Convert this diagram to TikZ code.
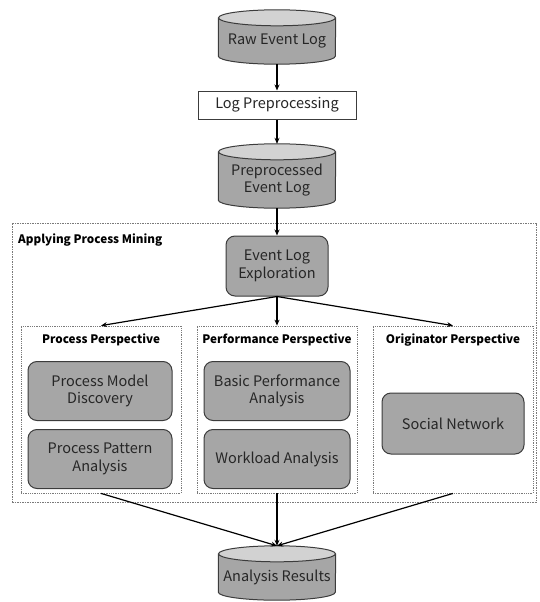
\documentclass[tikz,border=0pt]{standalone}
\usepackage{fontspec}
\setmainfont{Noto Sans CJK KR}
\usetikzlibrary{arrows.meta}
\definecolor{boxfill}{HTML}{A6A6A6}
\definecolor{cyltop}{HTML}{D2D2D2}
\definecolor{edge}{HTML}{3C3C3C}
\definecolor{txt}{HTML}{262626}
\definecolor{dotc}{HTML}{7A7A7A}
\newcommand\drawcyl[2]{%
  \fill[boxfill] ([yshift=-8pt]#1.north west) -- ([yshift=8pt]#1.south west)
    arc[start angle=180,end angle=360,x radius=#2,y radius=8pt] -- ([yshift=-8pt]#1.north east) -- cycle;
  \draw[edge,line width=1pt] ([yshift=-8pt]#1.north west) -- ([yshift=8pt]#1.south west)
    arc[start angle=180,end angle=360,x radius=#2,y radius=8pt] -- ([yshift=-8pt]#1.north east);
  \draw[edge,line width=1pt,fill=cyltop] ([yshift=-8pt]#1.north) ellipse[x radius=#2,y radius=8pt];}
\tikzset{
  cylnode/.style={minimum width=117pt,inner sep=0pt},
  lbl/.style={font=\fontsize{14.5}{17}\selectfont,text=txt,align=center,inner sep=0pt},
  ttl/.style={font=\fontsize{11.7}{14}\selectfont\bfseries,text=black,inner sep=0pt},
  whitebox/.style={draw=edge,line width=1pt,fill=white,font=\fontsize{14.5}{17}\selectfont,text=txt},
  procbox/.style={draw=edge,line width=1pt,fill=boxfill,rounded corners=9pt,font=\fontsize{14.5}{17.5}\selectfont,text=txt,align=center,inner sep=0pt},
  dotbox/.style={draw=dotc,line width=0.8pt,densely dotted,inner sep=0pt},
  outerbox/.style={draw=dotc,line width=0.8pt,dash pattern=on 1.5pt off 1pt,inner sep=0pt},
  arr/.style={-{Stealth[length=6pt,width=5pt]},line width=1.2pt,black}
}
\begin{document}
\begin{tikzpicture}[x=1pt,y=-1pt]
\useasboundingbox (0,0) rectangle (539,602);
% top chain
\node[cylnode,minimum height=54pt] (raw) at (277,37) {};
\drawcyl{raw}{58.5pt}
\node[lbl] (rawt) at ([yshift=-4pt]raw.center) {Raw Event Log};
\node[whitebox,minimum width=158pt,minimum height=28pt,inner sep=0pt] (logp) at (277,105) {Log Preprocessing};
\node[cylnode,minimum height=64pt] (pre) at (277,176) {};
\drawcyl{pre}{58.5pt}
\node[lbl] (pret) at ([yshift=-4pt]pre.center) {Preprocessed\\Event Log};
% outer region
\node[outerbox,minimum width=524pt,minimum height=279pt] (apm) at (274,362.5) {};
\node[ttl,anchor=west] (apmt) at (18,240) {Applying Process Mining};
\node[procbox,minimum width=102pt,minimum height=60pt] (ele) at (277,266) {Event Log\\Exploration};
% perspectives
\node[dotbox,minimum width=160pt,minimum height=167pt] (pp) at (101,409.5) {};
\node[dotbox,minimum width=160pt,minimum height=167pt] (perf) at (277,409.5) {};
\node[dotbox,minimum width=160pt,minimum height=167pt] (orig) at (453,409.5) {};
\node[ttl] (ppt) at (101,340) {Process Perspective};
\node[ttl] (perft) at (277,340) {Performance Perspective};
\node[ttl] (origt) at (453,340) {Originator Perspective};
\node[procbox,minimum width=144pt,minimum height=59pt] (pmd) at (100,391) {Process Model\\Discovery};
\node[procbox,minimum width=144pt,minimum height=59pt] (ppa) at (100,459) {Process Pattern\\Analysis};
\node[procbox,minimum width=146pt,minimum height=59pt] (bpa) at (277,391) {Basic Performance\\Analysis};
\node[procbox,minimum width=146pt,minimum height=59pt] (wla) at (277,459) {Workload Analysis};
\node[procbox,minimum width=142pt,minimum height=61pt] (sn) at (453,423.5) {Social Network};
% results
\node[cylnode,minimum height=54pt] (res) at (277,573) {};
\drawcyl{res}{58.5pt}
\node[lbl] (rest) at ([yshift=-4pt]res.center) {Analysis Results};
% connectors
\draw[arr] (raw.south) -- (logp.north);
\draw[arr] (logp.south) -- (pre.north);
\draw[arr] (pre.south) -- (ele.north);
\draw[arr] (ele.south) -- (pp.north);
\draw[arr] (ele.south) -- (perf.north);
\draw[arr] (ele.south) -- (orig.north);
\draw[arr] (pp.south) -- (res.north);
\draw[arr] (perf.south) -- (res.north);
\draw[arr] (orig.south) -- (res.north);
\end{tikzpicture}
\end{document}
